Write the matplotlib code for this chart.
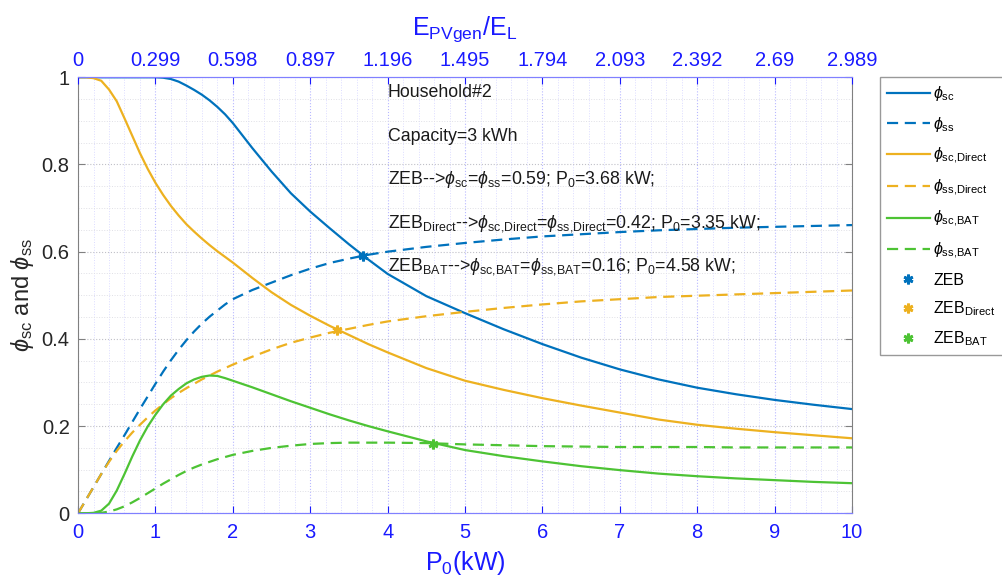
import numpy as np
import matplotlib

matplotlib.use("Agg")
import matplotlib.pyplot as plt

plt.rcParams["font.family"] = ["Liberation Sans", "DejaVu Sans"]
plt.rcParams["mathtext.fontset"] = "custom"
plt.rcParams["mathtext.rm"] = "Liberation Sans"
plt.rcParams["mathtext.it"] = "Liberation Sans:italic"
plt.rcParams["mathtext.bf"] = "Liberation Sans:bold"

# PV size sweep [kW]
p0 = [0, 0.1, 0.2, 0.3, 0.4, 0.5, 0.6, 0.7, 0.8, 0.9, 1.0,
      1.1, 1.2, 1.3, 1.4, 1.5, 1.6, 1.7, 1.8, 1.9, 2.0,
      2.25, 2.5, 2.75, 3.0, 3.25, 3.5, 3.75, 4.0,
      4.5, 5.0, 5.5, 6.0, 6.5, 7.0, 7.5, 8.0, 8.5, 9.0, 9.5, 10.0]

phi_sc = [1, 1, 1, 1, 1, 1, 1, 1, 1, 1, 1,
          0.999, 0.996, 0.990, 0.981, 0.971, 0.960, 0.947, 0.932, 0.915, 0.895,
          0.838, 0.784, 0.734, 0.692, 0.654, 0.617, 0.582, 0.549,
          0.498, 0.459, 0.422, 0.388, 0.357, 0.330, 0.307, 0.288, 0.273, 0.260, 0.249, 0.239]
phi_ss = [0, 0.030, 0.060, 0.090, 0.120, 0.150, 0.179, 0.209, 0.239, 0.268, 0.297,
          0.325, 0.351, 0.375, 0.397, 0.417, 0.435, 0.451, 0.465, 0.479, 0.491,
          0.512, 0.529, 0.546, 0.561, 0.574, 0.584, 0.593, 0.600,
          0.611, 0.620, 0.628, 0.635, 0.640, 0.645, 0.649, 0.652, 0.655, 0.657, 0.659, 0.661]
phi_sc_direct = [1, 1, 0.998, 0.992, 0.972, 0.945, 0.906, 0.866, 0.826, 0.790, 0.758,
                 0.730, 0.705, 0.683, 0.663, 0.646, 0.630, 0.615, 0.601, 0.588, 0.575,
                 0.540, 0.507, 0.478, 0.453, 0.430, 0.409, 0.388, 0.369,
                 0.333, 0.304, 0.283, 0.264, 0.247, 0.231, 0.215, 0.203, 0.194, 0.186, 0.179, 0.172]
phi_ss_direct = [0, 0.030, 0.060, 0.090, 0.118, 0.143, 0.165, 0.185, 0.203, 0.220, 0.236,
                 0.250, 0.264, 0.276, 0.287, 0.297, 0.307, 0.316, 0.325, 0.333, 0.341,
                 0.359, 0.376, 0.391, 0.403, 0.414, 0.423, 0.432, 0.440,
                 0.452, 0.462, 0.471, 0.479, 0.486, 0.491, 0.496, 0.499, 0.502, 0.505, 0.508, 0.511]
phi_sc_bat = [0, 0, 0.001, 0.006, 0.022, 0.052, 0.090, 0.130, 0.167, 0.199, 0.226,
              0.250, 0.270, 0.285, 0.298, 0.307, 0.313, 0.316, 0.315, 0.310, 0.304,
              0.289, 0.273, 0.257, 0.242, 0.227, 0.213, 0.200, 0.188,
              0.165, 0.145, 0.131, 0.119, 0.108, 0.099, 0.091, 0.085, 0.080, 0.076, 0.072, 0.069]
phi_ss_bat = [0, 0, 0, 0.001, 0.004, 0.009, 0.016, 0.025, 0.035, 0.046, 0.057,
              0.068, 0.078, 0.088, 0.097, 0.105, 0.112, 0.118, 0.124, 0.129, 0.134,
              0.143, 0.150, 0.155, 0.159, 0.161, 0.162, 0.162, 0.162,
              0.161, 0.158, 0.156, 0.154, 0.153, 0.152, 0.152, 0.152, 0.151, 0.151, 0.151, 0.151]

# ZEB points (P0 [kW], phi)
zeb = (3.68, 0.59)
zeb_direct = (3.35, 0.42)
zeb_bat = (4.58, 0.16)

top_ticks = [0, 1, 2, 3, 4, 5, 6, 7, 8, 9, 10]
top_labels = ["0", "0.299", "0.598", "0.897", "1.196", "1.495",
              "1.794", "2.093", "2.392", "2.69", "2.989"]

c_blue = "#0072BD"
c_orange = "#EDB120"
c_green = "#4DC334"
axis_blue = "#1a1aff"
spine_blue = "#8080ff"
asterisk = (6, 2, 0)

fig = plt.figure(figsize=(10.03, 5.85), dpi=100)
ax = fig.add_axes([0.0778, 0.1226, 0.7717, 0.7453])

dash = (5, 3)
ax.plot(p0, phi_sc, color=c_blue, lw=1.6, label=r"$\phi_{\mathrm{sc}}$")
ax.plot(p0, phi_ss, color=c_blue, lw=1.6, dashes=dash, label=r"$\phi_{\mathrm{ss}}$")
ax.plot(p0, phi_sc_direct, color=c_orange, lw=1.6, label=r"$\phi_{\mathrm{sc{,}Direct}}$")
ax.plot(p0, phi_ss_direct, color=c_orange, lw=1.6, dashes=dash, label=r"$\phi_{\mathrm{ss{,}Direct}}$")
ax.plot(p0, phi_sc_bat, color=c_green, lw=1.6, label=r"$\phi_{\mathrm{sc{,}BAT}}$")
ax.plot(p0, phi_ss_bat, color=c_green, lw=1.6, dashes=dash, label=r"$\phi_{\mathrm{ss{,}BAT}}$")

ax.plot(zeb[0], zeb[1], ls="none", marker=asterisk, ms=7, mew=2, color=c_blue, label="ZEB")
ax.plot(zeb_direct[0], zeb_direct[1], ls="none", marker=asterisk, ms=7, mew=2,
        color=c_orange, label=r"ZEB$_{\mathrm{Direct}}$")
ax.plot(zeb_bat[0], zeb_bat[1], ls="none", marker=asterisk, ms=7, mew=2,
        color=c_green, label=r"ZEB$_{\mathrm{BAT}}$")

ax.set_xlim(0, 10)
ax.set_ylim(0, 1)
ax.set_xticks(range(0, 11))
ax.set_yticks([0, 0.2, 0.4, 0.6, 0.8, 1.0])
ax.set_yticklabels(["0", "0.2", "0.4", "0.6", "0.8", "1"])
ax.set_xticks(np.arange(0, 10.01, 0.2), minor=True)
ax.set_yticks(np.arange(0, 1.001, 0.05), minor=True)

ax.grid(which="major", axis="x", ls=":", color="#b8b8ff", lw=0.8)
ax.grid(which="minor", axis="x", ls=":", color="#dcdcff", lw=0.7)
ax.grid(which="major", axis="y", ls=":", color="#c0c0c8", lw=0.8)
ax.grid(which="minor", axis="y", ls=":", color="#e0e0e6", lw=0.7)
ax.set_axisbelow(True)

ax.tick_params(axis="x", which="major", direction="in", length=5, colors=axis_blue,
               labelsize=14.5, top=False, pad=7)
ax.tick_params(axis="x", which="minor", length=0)
ax.tick_params(axis="y", which="major", direction="in", length=5, right=True,
               colors="#808080", labelcolor="#262626", labelsize=14.5, pad=6)
ax.tick_params(axis="y", which="minor", length=0)
ax.spines["bottom"].set_color(spine_blue)
ax.spines["top"].set_color(spine_blue)
ax.spines["left"].set_color("#808080")
ax.spines["right"].set_color("#808080")

ax.set_xlabel(r"P$_0$(kW)", fontsize=18, color=axis_blue, labelpad=5)
ax.set_ylabel(r"$\phi_{\mathrm{sc}}$ and $\phi_{\mathrm{ss}}$", fontsize=17,
              color="#262626", labelpad=4)

# upper axis: PV generation relative to load
ax2 = ax.twiny()
ax2.set_xlim(ax.get_xlim())
ax2.set_xticks(top_ticks)
ax2.set_xticklabels(top_labels)
ax2.tick_params(axis="x", direction="in", length=5, colors=axis_blue, labelsize=14.5, pad=5)
for s in ["left", "right"]:
    ax2.spines[s].set_visible(False)
ax2.spines["top"].set_color(spine_blue)
ax2.spines["bottom"].set_color(spine_blue)
ax2.set_xlabel(r"E$_{\mathrm{PVgen}}$/E$_{\mathrm{L}}$", fontsize=18, color=axis_blue, labelpad=12)

notes = [
    "Household#2",
    "Capacity=3 kWh",
    r"ZEB-->$\phi_{\mathrm{sc}}$=$\phi_{\mathrm{ss}}$=0.59; P$_0$=3.68 kW;",
    r"ZEB$_{\mathrm{Direct}}$-->$\phi_{\mathrm{sc{,}Direct}}$=$\phi_{\mathrm{ss{,}Direct}}$=0.42; P$_0$=3.35 kW;",
    r"ZEB$_{\mathrm{BAT}}$-->$\phi_{\mathrm{sc{,}BAT}}$=$\phi_{\mathrm{ss{,}BAT}}$=0.16; P$_0$=4.58 kW;",
]
for i, note in enumerate(notes):
    ax.text(4.0, 0.965 - 0.1 * i, note, fontsize=12.8, color="#1a1a1a",
            ha="left", va="center")

ax.legend(loc="upper left", bbox_to_anchor=(0.877, 0.868), bbox_transform=fig.transFigure,
          borderaxespad=0, fontsize=11.5, frameon=True, fancybox=False, edgecolor="#808080",
          handlelength=2.7, labelspacing=0.72, handletextpad=0.2, borderpad=0.45)

plt.savefig("out.png", dpi=100)
